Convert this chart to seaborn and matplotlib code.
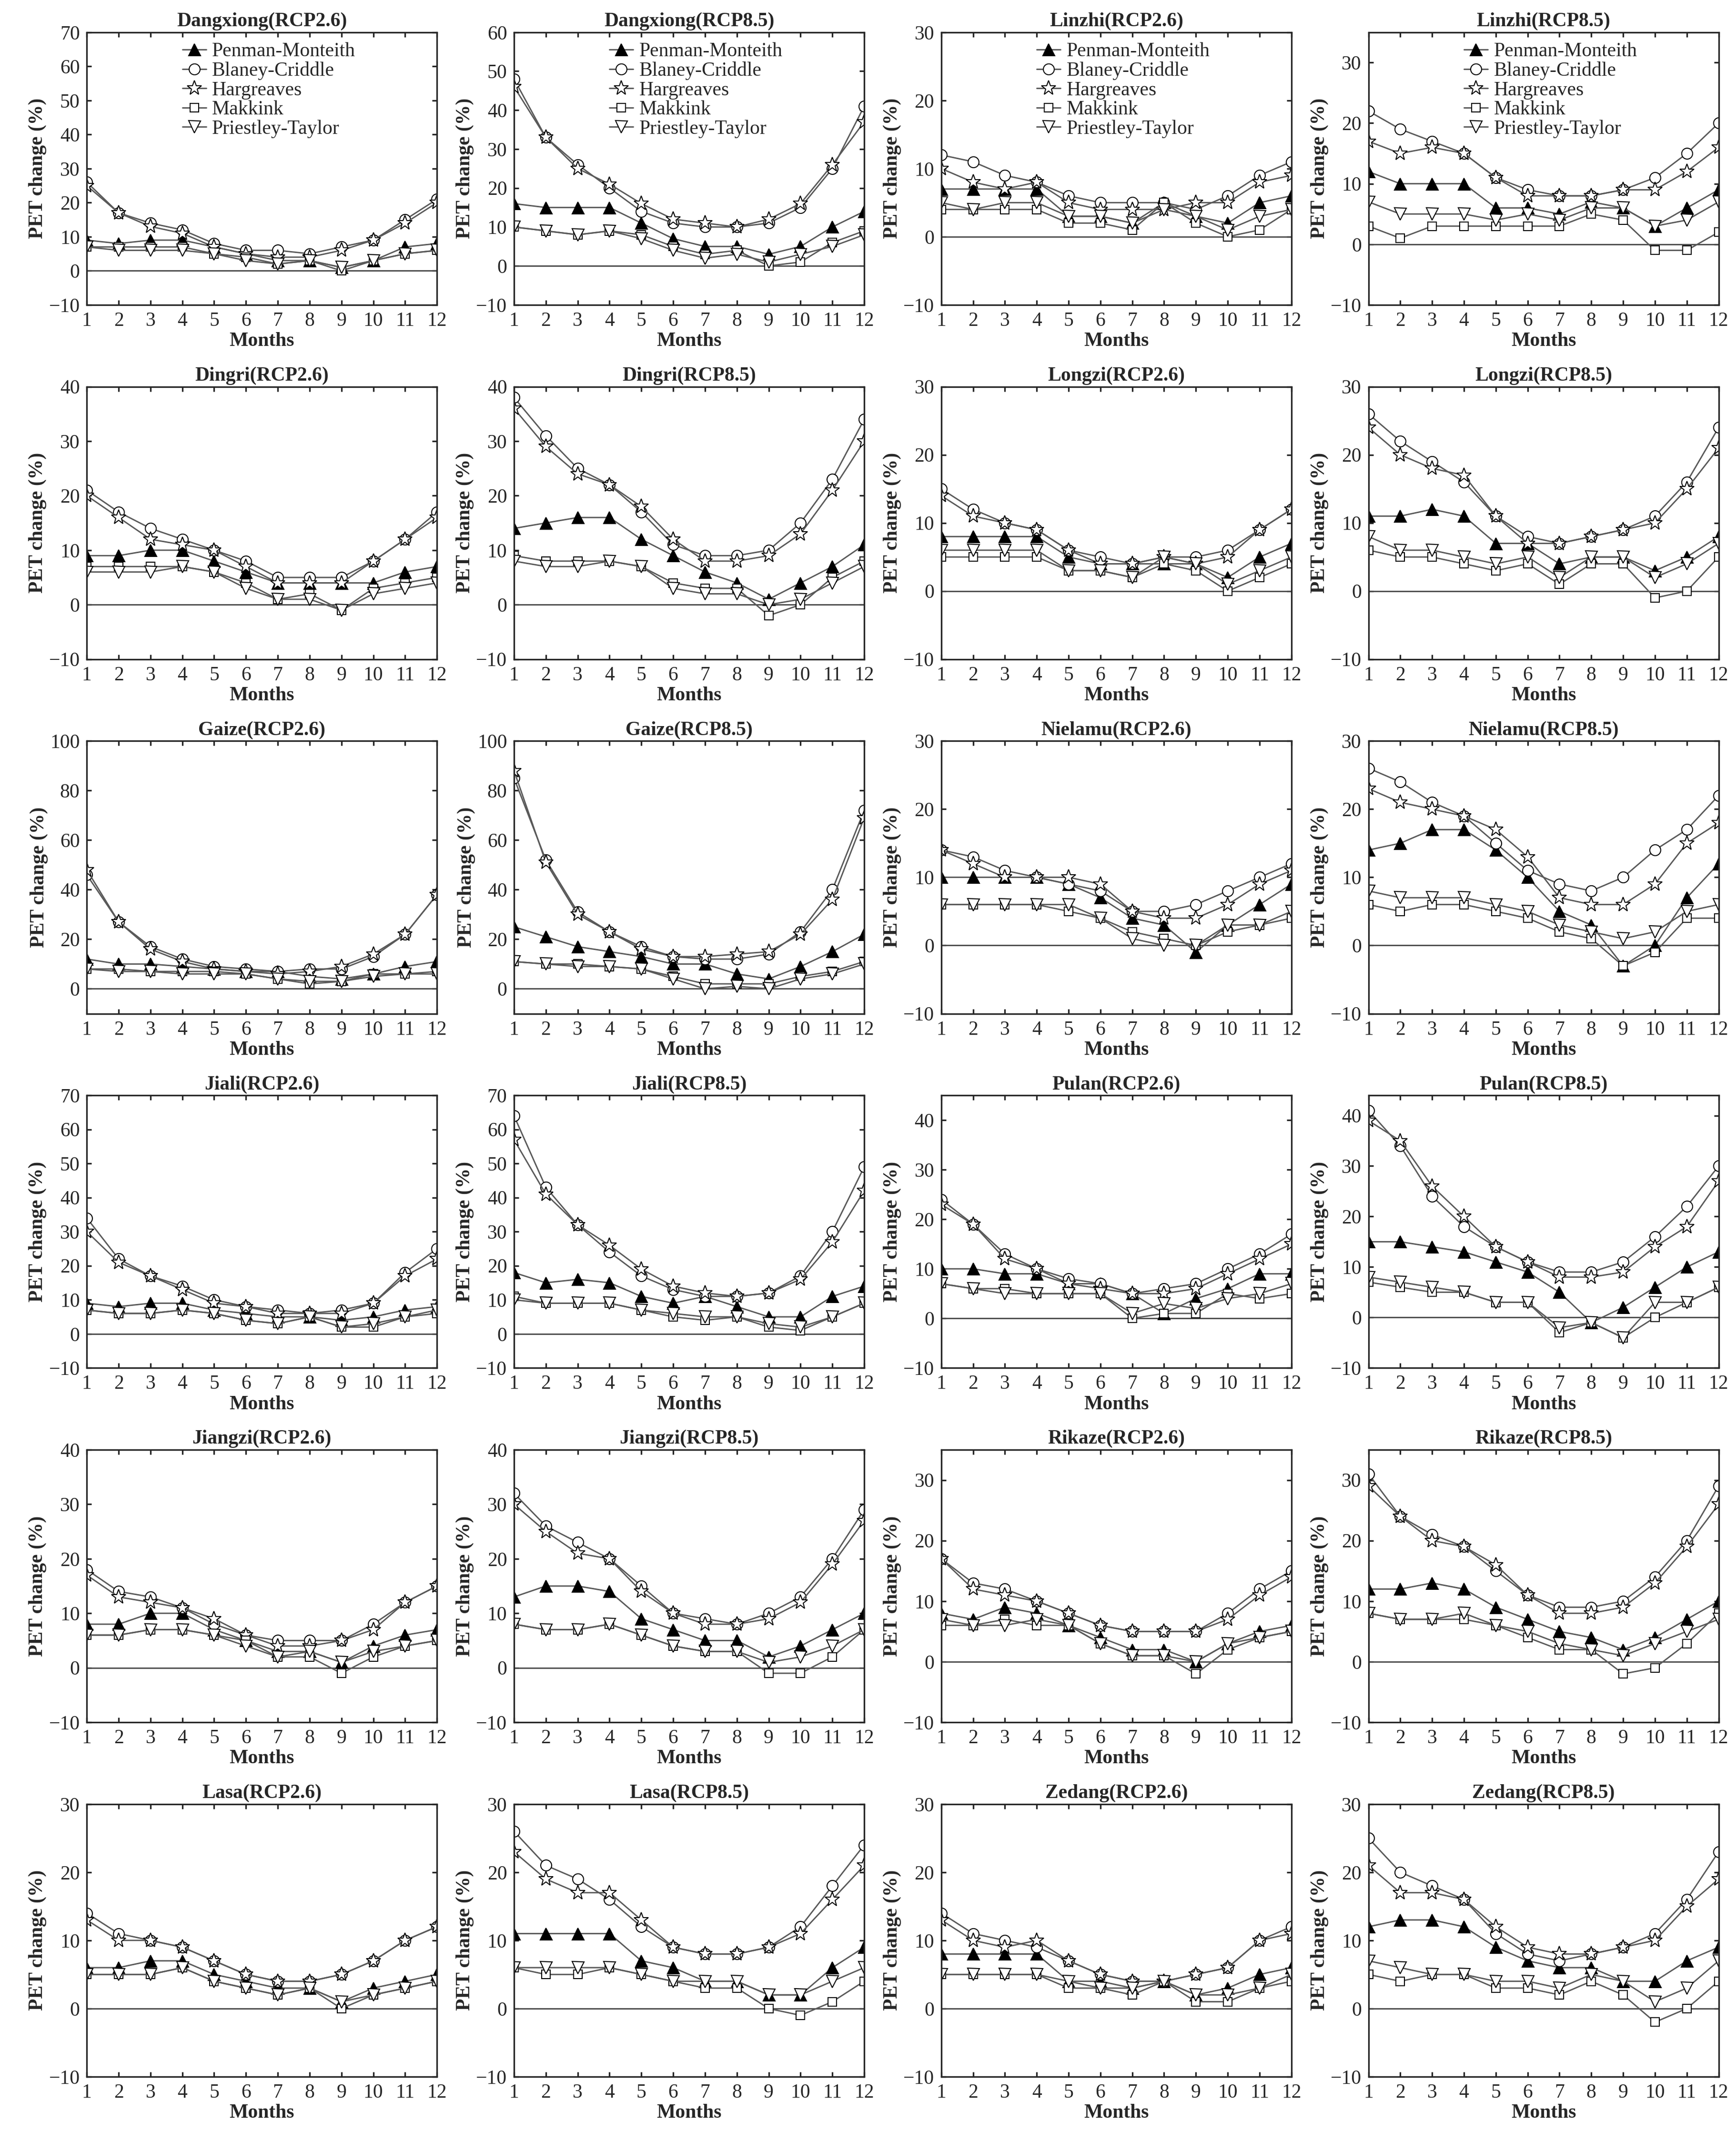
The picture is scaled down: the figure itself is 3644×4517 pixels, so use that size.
import numpy as np
import pandas as pd
import matplotlib
matplotlib.use("Agg")
import matplotlib.pyplot as plt
import seaborn as sns

months = list(range(1, 13))
methods = ["Penman-Monteith", "Blaney-Criddle", "Hargreaves", "Makkink", "Priestley-Taylor"]

# each panel: rows = PM, BC, HG, MK, PT
dangxiong_26 = [[9,8,9,9,7,5,3,3,1,3,7,8],
                [26,17,14,12,8,6,6,5,7,9,15,21],
                [25,17,13,11,7,5,4,4,6,9,14,20],
                [7,7,7,7,5,4,2,3,0,3,5,6],
                [7,6,6,6,5,3,2,3,1,3,5,6]]
dangxiong_85 = [[16,15,15,15,11,7,5,5,3,5,10,14],
                [48,33,26,20,14,11,10,10,11,15,25,41],
                [46,33,25,21,16,12,11,10,12,16,26,37],
                [10,9,8,9,8,5,3,4,0,1,6,9],
                [10,9,8,9,7,4,2,3,1,3,5,8]]
linzhi_26 = [[7,7,7,7,3,3,2,5,3,2,5,6],
             [12,11,9,8,6,5,5,5,4,6,9,11],
             [10,8,7,8,5,4,4,4,5,5,8,9],
             [4,4,4,4,2,2,1,5,2,0,1,4],
             [5,4,5,5,3,3,2,4,3,1,3,4]]
linzhi_85 = [[12,10,10,10,6,6,5,7,6,3,6,9],
             [22,19,17,15,11,9,8,8,9,11,15,20],
             [17,15,16,15,11,8,8,8,9,9,12,16],
             [3,1,3,3,3,3,3,5,4,-1,-1,2],
             [7,5,5,5,4,5,4,6,6,3,4,7]]
dingri_26 = [[9,9,10,10,8,6,4,4,4,4,6,7],
             [21,17,14,12,10,8,5,5,5,8,12,17],
             [20,16,12,11,10,7,4,4,4,8,12,16],
             [7,7,7,7,6,4,1,2,-1,3,4,5],
             [6,6,6,7,6,3,1,1,-1,2,3,4]]
dingri_85 = [[14,15,16,16,12,9,6,4,1,4,7,11],
             [38,31,25,22,17,11,9,9,10,15,23,34],
             [36,29,24,22,18,12,8,8,9,13,21,30],
             [9,8,8,8,7,4,3,3,-2,0,5,8],
             [8,7,7,8,7,3,2,2,0,1,4,7]]
longzi_26 = [[8,8,8,8,5,4,4,4,4,2,5,7],
             [15,12,10,9,6,5,4,5,5,6,9,12],
             [14,11,10,9,6,4,4,5,4,5,9,12],
             [5,5,5,5,3,3,2,4,3,0,2,4],
             [6,6,6,6,3,3,2,5,4,1,3,5]]
longzi_85 = [[11,11,12,11,7,7,4,5,5,3,5,8],
             [26,22,19,16,11,8,7,8,9,11,16,24],
             [24,20,18,17,11,7,7,8,9,10,15,21],
             [6,5,5,4,3,4,1,4,4,-1,0,5],
             [8,6,6,5,4,5,2,5,5,2,4,7]]
gaize_26 = [[12,10,10,9,8,7,7,5,4,6,9,11],
            [46,27,17,12,9,8,7,8,8,13,22,38],
            [48,27,16,11,8,7,6,7,9,14,22,38],
            [8,8,7,7,7,6,4,2,3,6,6,7],
            [8,7,7,6,6,6,4,3,3,5,6,6]]
gaize_85 = [[25,21,17,15,13,10,10,6,4,9,15,22],
            [85,52,31,23,17,13,12,12,14,23,40,72],
            [88,51,30,23,16,13,13,14,15,22,36,69],
            [11,10,10,9,8,5,2,2,2,5,7,11],
            [11,10,9,9,8,4,0,1,0,4,6,10]]
nielamu_26 = [[10,10,10,10,9,7,4,3,-1,3,6,9],
              [14,13,11,10,9,8,5,5,6,8,10,12],
              [14,12,10,10,10,9,5,4,4,6,9,11],
              [6,6,6,6,5,4,2,1,0,2,3,4],
              [6,6,6,6,6,4,1,0,0,3,3,5]]
nielamu_85 = [[14,15,17,17,14,10,5,3,-3,0,7,12],
              [26,24,21,19,15,11,9,8,10,14,17,22],
              [23,21,20,19,17,13,7,6,6,9,15,18],
              [6,5,6,6,5,4,2,1,-3,-1,4,4],
              [8,7,7,7,6,5,3,2,1,2,5,6]]
jiali_26 = [[9,8,9,9,7,6,5,5,4,5,7,8],
            [34,22,17,14,10,8,7,6,7,9,18,25],
            [30,21,17,13,9,8,6,6,6,9,17,22],
            [7,6,6,7,6,4,3,5,2,2,5,6],
            [7,6,6,7,6,4,3,5,2,3,5,7]]
jiali_85 = [[18,15,16,15,11,9,11,8,5,5,11,14],
            [64,43,32,24,17,13,11,11,12,17,30,49],
            [57,41,32,26,19,14,12,11,12,16,27,42],
            [11,9,9,9,7,5,4,5,2,1,5,9],
            [10,9,9,9,7,6,5,5,3,2,5,9]]
pulan_26 = [[10,10,9,9,7,7,5,1,4,6,9,9],
            [24,19,13,10,8,7,5,6,7,10,13,17],
            [23,19,12,10,7,6,5,5,6,9,12,15],
            [7,6,6,5,5,5,0,1,1,5,4,5],
            [7,6,5,5,5,5,1,3,2,4,5,7]]
pulan_85 = [[15,15,14,13,11,9,5,-1,2,6,10,13],
            [41,34,24,18,14,11,9,9,11,16,22,30],
            [39,35,26,20,14,11,8,8,9,14,18,27],
            [7,6,5,5,3,3,-3,-1,-4,0,3,6],
            [8,7,6,5,3,3,-2,-1,-4,3,3,6]]
jiangzi_26 = [[8,8,10,10,7,5,3,3,1,4,6,7],
              [18,14,13,11,8,6,5,5,5,8,12,15],
              [17,13,12,11,9,6,4,4,5,7,12,15],
              [6,6,7,7,6,5,2,2,-1,2,4,5],
              [6,6,7,7,6,4,2,3,1,3,4,5]]
jiangzi_85 = [[13,15,15,14,9,7,5,5,2,4,7,10],
              [32,26,23,20,15,10,9,8,10,13,20,29],
              [30,25,21,20,14,10,8,8,9,12,19,27],
              [8,7,7,8,6,4,3,3,-1,-1,2,7],
              [8,7,7,8,6,4,3,3,1,2,4,7]]
rikaze_26 = [[8,7,9,8,6,4,2,2,0,3,5,6],
             [17,13,12,10,8,6,5,5,5,8,12,15],
             [17,12,11,10,8,6,5,5,5,7,11,14],
             [6,6,7,6,6,3,1,1,-2,2,4,5],
             [7,6,6,7,6,3,1,1,0,3,4,5]]
rikaze_85 = [[12,12,13,12,9,7,5,4,2,4,7,10],
             [31,24,21,19,15,11,9,9,10,14,20,29],
             [29,24,20,19,16,11,8,8,9,13,19,26],
             [8,7,7,7,6,4,2,2,-2,-1,3,8],
             [8,7,7,8,6,5,3,2,1,3,5,7]]
lasa_26 = [[6,6,7,7,5,4,3,3,1,3,4,5],
           [14,11,10,9,7,5,4,4,5,7,10,12],
           [13,10,10,9,7,5,4,4,5,7,10,12],
           [5,5,5,6,4,3,2,3,0,2,3,4],
           [5,5,5,6,4,3,2,3,1,2,3,4]]
lasa_85 = [[11,11,11,11,7,6,4,4,2,2,6,9],
           [26,21,19,16,12,9,8,8,9,12,18,24],
           [23,19,17,17,13,9,8,8,9,11,16,21],
           [6,5,5,6,5,4,3,3,0,-1,1,4],
           [6,6,6,6,5,4,4,4,2,2,4,6]]
zedang_26 = [[8,8,8,8,4,4,3,4,2,3,5,6],
             [14,11,10,9,7,5,4,4,5,6,10,12],
             [13,10,9,10,7,5,4,4,5,6,10,11],
             [5,5,5,5,3,3,2,4,1,1,3,4],
             [5,5,5,5,4,3,3,4,2,2,3,5]]
zedang_85 = [[12,13,13,12,9,7,6,6,4,4,7,9],
             [25,20,18,16,11,8,7,8,9,11,16,23],
             [21,17,17,16,12,9,8,8,9,10,15,19],
             [5,4,5,5,3,3,2,4,2,-2,0,4],
             [7,6,5,5,4,4,3,5,4,1,3,7]]

panels = [
    ("Dangxiong(RCP2.6)", dangxiong_26, (-10, 70), 10),
    ("Dangxiong(RCP8.5)", dangxiong_85, (-10, 60), 10),
    ("Linzhi(RCP2.6)", linzhi_26, (-10, 30), 10),
    ("Linzhi(RCP8.5)", linzhi_85, (-10, 35), 10),
    ("Dingri(RCP2.6)", dingri_26, (-10, 40), 10),
    ("Dingri(RCP8.5)", dingri_85, (-10, 40), 10),
    ("Longzi(RCP2.6)", longzi_26, (-10, 30), 10),
    ("Longzi(RCP8.5)", longzi_85, (-10, 30), 10),
    ("Gaize(RCP2.6)", gaize_26, (-10, 100), 20),
    ("Gaize(RCP8.5)", gaize_85, (-10, 100), 20),
    ("Nielamu(RCP2.6)", nielamu_26, (-10, 30), 10),
    ("Nielamu(RCP8.5)", nielamu_85, (-10, 30), 10),
    ("Jiali(RCP2.6)", jiali_26, (-10, 70), 10),
    ("Jiali(RCP8.5)", jiali_85, (-10, 70), 10),
    ("Pulan(RCP2.6)", pulan_26, (-10, 45), 10),
    ("Pulan(RCP8.5)", pulan_85, (-10, 44), 10),
    ("Jiangzi(RCP2.6)", jiangzi_26, (-10, 40), 10),
    ("Jiangzi(RCP8.5)", jiangzi_85, (-10, 40), 10),
    ("Rikaze(RCP2.6)", rikaze_26, (-10, 35), 10),
    ("Rikaze(RCP8.5)", rikaze_85, (-10, 35), 10),
    ("Lasa(RCP2.6)", lasa_26, (-10, 30), 10),
    ("Lasa(RCP8.5)", lasa_85, (-10, 30), 10),
    ("Zedang(RCP2.6)", zedang_26, (-10, 30), 10),
    ("Zedang(RCP8.5)", zedang_85, (-10, 30), 10),
]

styles = [("^", "black", 6), ("o", "white", 5.5), ("*", "white", 7.5),
          ("s", "white", 4.5), ("v", "white", 6)]

sns.set_style("ticks")
plt.rcParams["font.family"] = ["Liberation Serif", "DejaVu Serif"]
plt.rcParams["font.size"] = 10

fig, axes = plt.subplots(6, 4, figsize=(3644 / 300, 4517 / 300), dpi=300)
fig.subplots_adjust(left=0.05, right=0.99, top=0.985, bottom=0.035, wspace=0.22, hspace=0.3)

for i, (title, data, ylim, step) in enumerate(panels):
    ax = axes.flat[i]
    ax.axhline(0, color="0.3", lw=0.7)
    for j, name in enumerate(methods):
        mk, fc, ms = styles[j]
        df = pd.DataFrame({"Months": months, "PET": data[j]})
        sns.lineplot(data=df, x="Months", y="PET", ax=ax, color="0.35", lw=0.7,
                     marker=mk, markersize=ms, markerfacecolor=fc,
                     markeredgecolor="black", markeredgewidth=0.5, label=name)
    ax.set_xlim(1, 12)
    ax.set_xticks(months)
    ax.set_ylim(*ylim)
    ax.set_yticks(np.arange(-10 if step == 10 else 0, ylim[1] + 0.1, step))
    ax.set_title(title, fontweight="bold", fontsize=10, pad=3)
    ax.set_xlabel("Months", fontweight="bold", fontsize=10, labelpad=1)
    ax.set_ylabel("PET change (%)", fontweight="bold", fontsize=10, labelpad=1)
    ax.tick_params(labelsize=10, length=2.5, direction="in", top=True, right=True)
    for s in ax.spines.values():
        s.set_linewidth(0.8)
    if i < 4:
        ax.legend(loc="upper center", frameon=False, fontsize=10, handlelength=1.2,
                  handletextpad=0.3, labelspacing=0.05, borderaxespad=0.1,
                  bbox_to_anchor=(0.52, 1.0))
    else:
        ax.get_legend().remove()

fig.savefig("out.png", dpi=300)
